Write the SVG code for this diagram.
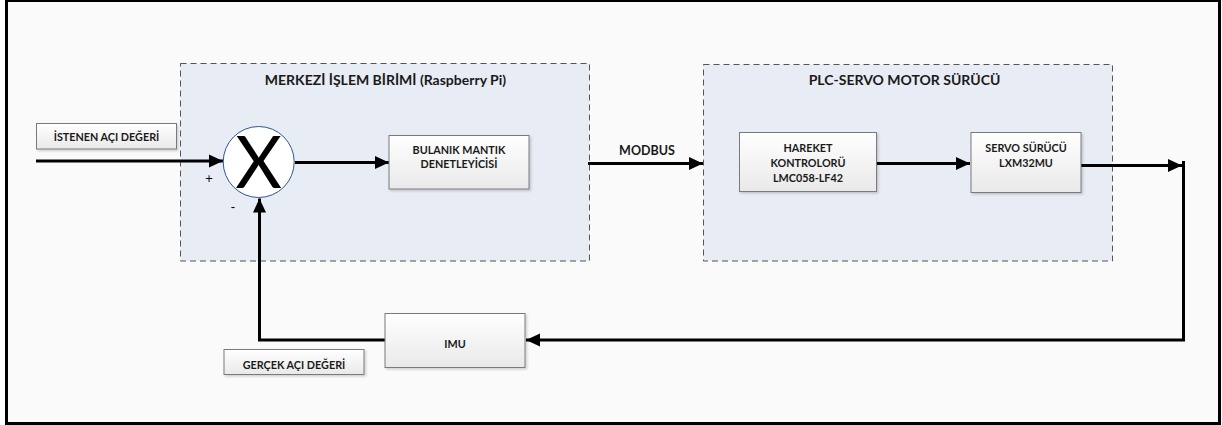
<svg xmlns="http://www.w3.org/2000/svg" width="1222" height="425" viewBox="0 0 1222 425">
<style>
.grp{fill:#e8ecf4;stroke:#555;stroke-width:1;stroke-dasharray:6,4}
.box{fill:url(#bg);stroke:#7a7a7a;stroke-width:1;filter:url(#sh)}
.t{font-family:Lato,"Open Sans","Liberation Sans",sans-serif;font-weight:bold;fill:#1a1a1a;text-anchor:middle}
.ttl{font-size:14px}
.bt{font-size:10.8px}
.w{fill:none;stroke:#000;stroke-width:3}
.sg{font-family:Lato,"Liberation Sans",sans-serif;font-size:13px;text-anchor:middle;fill:#000}
</style>
<defs>
<linearGradient id="bg" x1="0" y1="0" x2="0" y2="1">
<stop offset="0" stop-color="#ffffff"/>
<stop offset="1" stop-color="#e9e9e9"/>
</linearGradient>
<filter id="sh" x="-5%" y="-10%" width="115%" height="130%">
<feDropShadow dx="1.5" dy="1.5" stdDeviation="1" flood-color="#000" flood-opacity="0.18"/>
</filter>
<marker id="ah" markerUnits="userSpaceOnUse" markerWidth="15" markerHeight="14" refX="14" refY="7" orient="auto">
<path d="M0,0.5 L14,7 L0,13.5 z" fill="#000"/>
</marker>
</defs>
<rect x="6.5" y="0.5" width="1213" height="423" fill="#fafafa" stroke="#000" stroke-width="3"/>

<g id="merkezi">
<rect class="grp" x="180.5" y="63.5" width="409" height="197.5"/>
<text class="t ttl" x="385.5" y="84.5">MERKEZİ İŞLEM BİRİMİ (Raspberry Pi)</text>
</g>
<g id="plc">
<rect class="grp" x="703.5" y="64.5" width="409" height="196.5"/>
<text class="t ttl" x="904.5" y="84.5">PLC-SERVO MOTOR SÜRÜCÜ</text>
</g>

<g id="connectors">
<line class="w" x1="36" y1="161" x2="223" y2="161" marker-end="url(#ah)"/>
<line class="w" x1="295" y1="162.5" x2="389" y2="162.5" marker-end="url(#ah)"/>
<line class="w" x1="588" y1="163.5" x2="703" y2="163.5" marker-end="url(#ah)"/>
<line class="w" x1="877" y1="163.5" x2="970" y2="163.5" marker-end="url(#ah)"/>
<line class="w" x1="1081" y1="165.5" x2="1182" y2="165.5" marker-end="url(#ah)"/>
<polyline class="w" points="1183.5,161 1183.5,340 526,340" marker-end="url(#ah)"/>
<polyline class="w" points="385,340 259.5,340 259.5,198.5" marker-end="url(#ah)"/>
<text class="t" x="647" y="154.5" font-size="12.5">MODBUS</text>
<text class="sg" x="209" y="183">+</text>
<text class="sg" x="233" y="212">-</text>
</g>

<g id="istenen">
<rect class="box" x="36.5" y="123.5" width="140" height="25.5"/>
<text class="t bt" x="106.5" y="140.5">İSTENEN AÇI DEĞERİ</text>
</g>

<g id="toplayici">
<circle cx="258.7" cy="162" r="35.5" fill="#fff" stroke="#2f5597" stroke-width="1"/>
<text x="258.7" y="188" font-family="Lato,'Liberation Sans',sans-serif" font-size="72" text-anchor="middle" fill="#000">X</text>
</g>

<g id="bulanik">
<rect class="box" x="389" y="135.5" width="140" height="53.5"/>
<text class="t bt" x="459" y="153.5">BULANIK MANTIK</text>
<text class="t bt" x="459" y="167.5">DENETLEYİCİSİ</text>
</g>

<g id="hareket">
<rect class="box" x="739.5" y="132.5" width="137" height="59"/>
<text class="t bt" x="808" y="152">HAREKET</text>
<text class="t bt" x="808" y="167">KONTROLORÜ</text>
<text class="t bt" x="808" y="182">LMC058-LF42</text>
</g>

<g id="servo">
<rect class="box" x="971" y="132.5" width="110" height="60"/>
<text class="t bt" x="1026" y="152">SERVO SÜRÜCÜ</text>
<text class="t bt" x="1026" y="167">LXM32MU</text>
</g>

<g id="imu">
<rect class="box" x="385" y="313.5" width="140" height="54"/>
<text class="t bt" x="455" y="347.5">IMU</text>
</g>

<g id="gercek">
<rect class="box" x="224" y="349.5" width="140" height="25"/>
<text class="t bt" x="294" y="369">GERÇEK AÇI DEĞERİ</text>
</g>
</svg>
